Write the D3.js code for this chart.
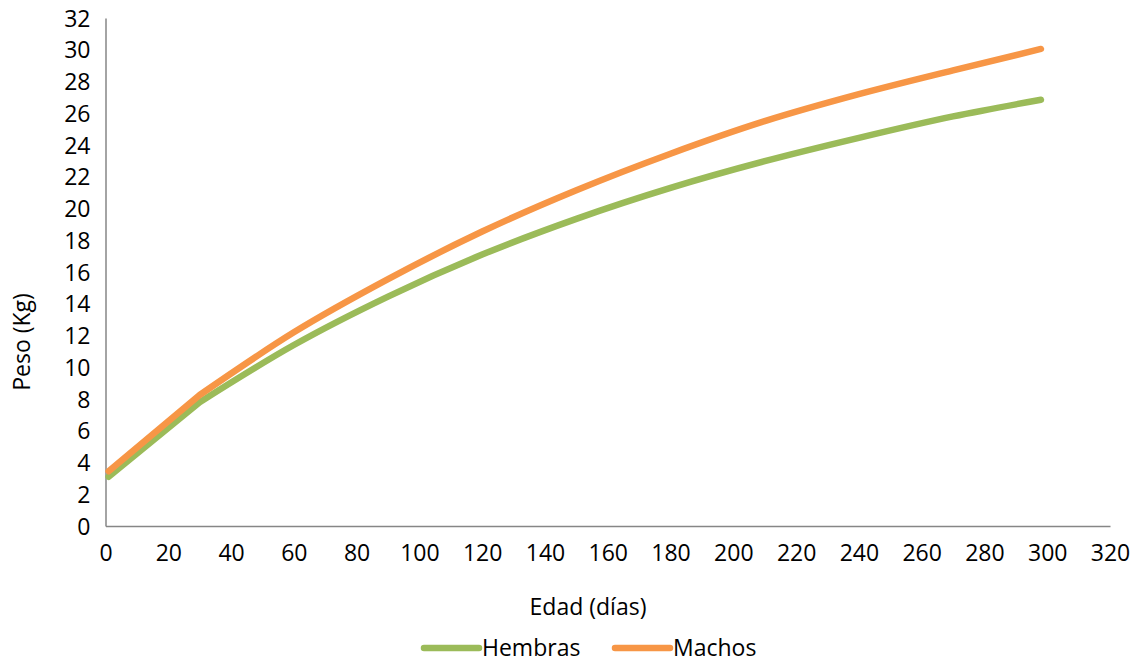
<!DOCTYPE html>
<html>
<head>
<meta charset="utf-8">
<script src="https://cdn.jsdelivr.net/npm/d3@7"></script>
<style>
  body { margin: 0; background: #fff; }
  text { font-family: "Open Sans", Lato, sans-serif; fill: #000; }
</style>
</head>
<body>
<svg id="chart"></svg>
<script>
// age in days and weight (kg)
var dias = [1, 30, 60, 90, 120, 150, 180, 210, 240, 270, 298];
var hembras = [3.1, 7.8, 11.4, 14.45, 17.1, 19.35, 21.3, 22.98, 24.45, 25.8, 26.85];
var machos = [3.45, 8.25, 12.2, 15.55, 18.55, 21.15, 23.45, 25.5, 27.2, 28.7, 30.05];
var xTicks = d3.range(0, 321, 20);
var yTicks = d3.range(0, 33, 2);

var w = 1137;
var h = 662;
var fontSize = "23px";

var svg = d3.select("#chart")
  .attr("width", w)
  .attr("height", h);

var xScale = d3.scaleLinear().domain([0, 320]).range([105.5, 1110]);
var yScale = d3.scaleLinear().domain([0, 32]).range([526, 18]);

//axes, no tick marks
var xAxis = d3.axisBottom(xScale).tickValues(xTicks).tickSize(0).tickPadding(19);
var yAxis = d3.axisLeft(yScale).tickValues(yTicks).tickSize(0).tickPadding(15);

var gx = svg.append("g")
  .attr("transform", "translate(0," + yScale(0) + ")")
  .call(xAxis);
var gy = svg.append("g")
  .attr("transform", "translate(" + xScale(0) + ",0)")
  .call(yAxis);

[gx, gy].forEach(function(g) {
  g.select(".domain").attr("stroke", "#868686").attr("stroke-width", 1.5);
  g.selectAll("text")
    .attr("font-size", fontSize)
    .attr("font-family", "'Open Sans', sans-serif")
    .attr("fill", "#000");
});
gy.selectAll("text").attr("dy", "0.35em");

var series = [
  { name: "Hembras", values: hembras, color: "#9BBB59" },
  { name: "Machos", values: machos, color: "#F79646" }
];

//first stretch straight, the rest smooth
var straight = d3.line()
  .x(function(d) { return xScale(d[0]); })
  .y(function(d) { return yScale(d[1]); });
var smooth = d3.line()
  .curve(d3.curveMonotoneX)
  .x(function(d) { return xScale(d[0]); })
  .y(function(d) { return yScale(d[1]); });

series.forEach(function(s) {
  var pts = dias.map(function(x, i) { return [x, s.values[i]]; });
  svg.append("path")
    .attr("d", straight(pts.slice(0, 2)) + smooth(pts.slice(1)))
    .attr("fill", "none")
    .attr("stroke", s.color)
    .attr("stroke-width", 6.5)
    .attr("stroke-linecap", "round")
    .attr("stroke-linejoin", "round");
});

//axis labels
svg.append("text")
  .text("Edad (días)")
  .attr("x", 588)
  .attr("y", 615)
  .attr("text-anchor", "middle")
  .attr("font-size", fontSize);

svg.append("text")
  .text("Peso (Kg)")
  .attr("text-anchor", "middle")
  .attr("font-size", fontSize)
  .attr("transform", "translate(30,342) rotate(-90)");

//legend
var legendX = [424, 615];
series.forEach(function(s, i) {
  var g = svg.append("g").attr("transform", "translate(" + legendX[i] + ",648)");
  g.append("line")
    .attr("x1", 0).attr("x2", 55)
    .attr("stroke", s.color)
    .attr("stroke-width", 6.5)
    .attr("stroke-linecap", "round");
  g.append("text")
    .text(s.name)
    .attr("x", 58)
    .attr("y", 8)
    .attr("font-size", fontSize);
});
</script>
</body>
</html>
